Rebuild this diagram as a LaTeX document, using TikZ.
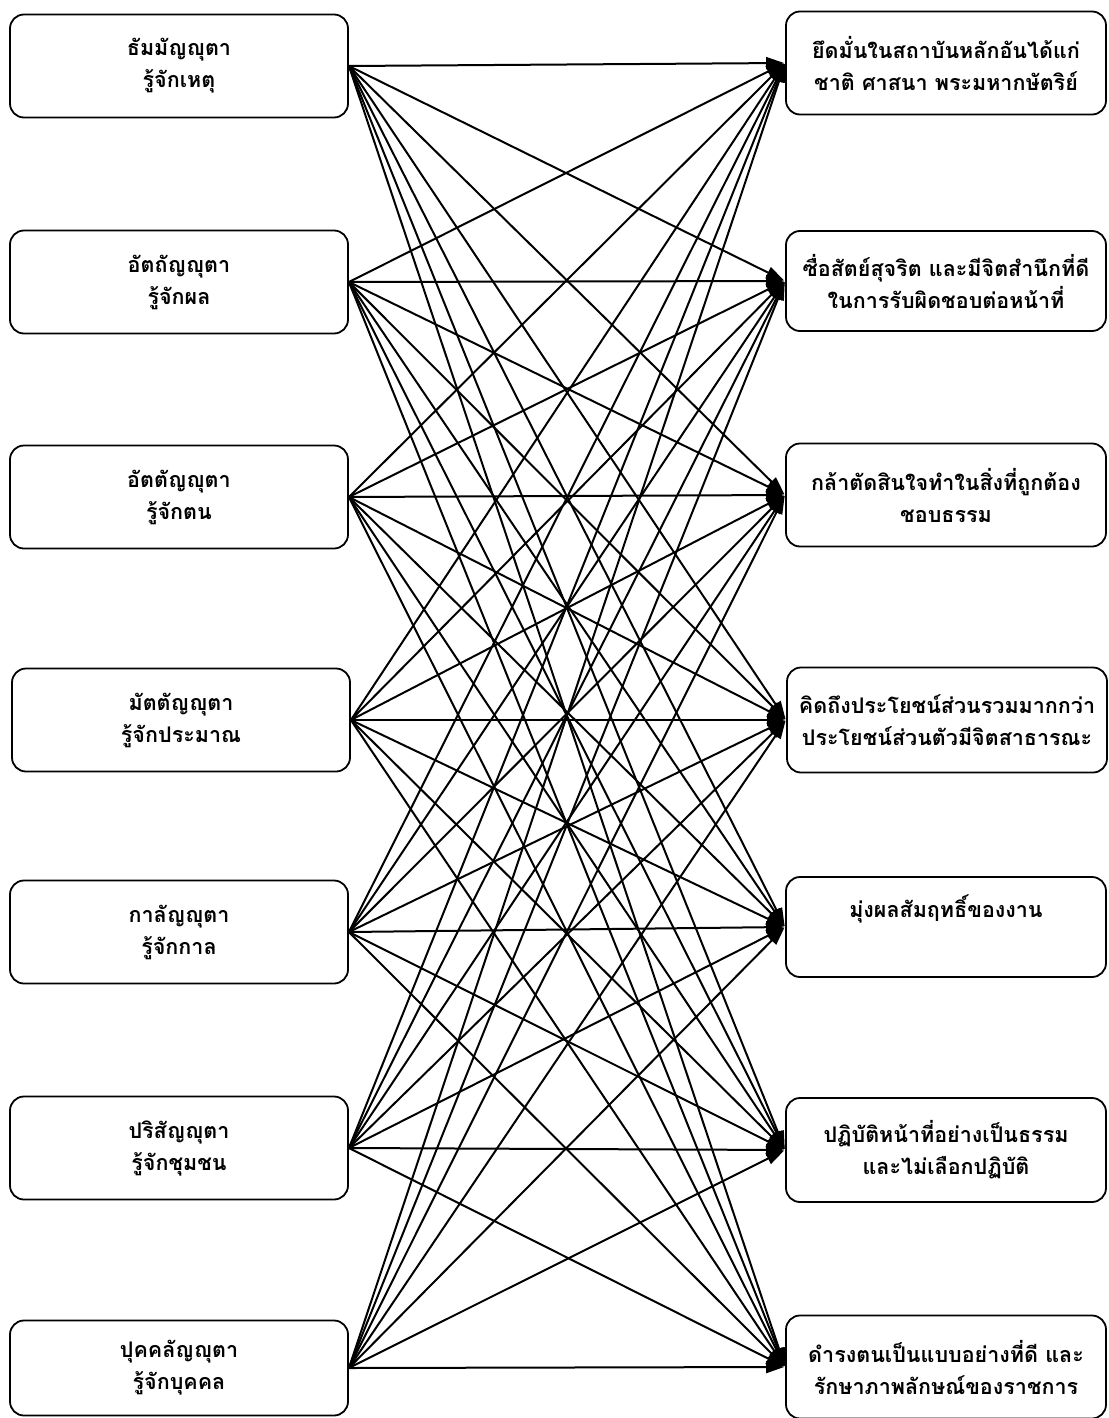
\documentclass[tikz,border=0pt]{standalone}
\usepackage{fontspec}
\newfontfamily\thaifont[Script=Thai]{Loma}
\usetikzlibrary{arrows.meta}
\begin{document}
\begin{tikzpicture}[x=1pt,y=-1pt,
  box/.style={draw=black, line width=1.8pt, rounded corners=14pt, align=center,
    font=\thaifont\bfseries\fontsize{21.5}{32}\selectfont, inner sep=0pt},
  lbox/.style={box, minimum width=338pt, minimum height=103pt},
  rbox/.style={box, minimum width=320pt, minimum height=103pt},
  arr/.style={line width=2pt, -{Triangle[length=18pt,width=12pt]}, shorten >=1pt}]
\useasboundingbox (0,0) rectangle (1108,1418);
% left
\node[lbox] (L1) at (179,66) {ธัมมัญญุตา\\รู้จักเหตุ};
\node[lbox] (L2) at (179,282) {อัตถัญญุตา\\รู้จักผล};
\node[lbox] (L3) at (179,497) {อัตตัญญุตา\\รู้จักตน};
\node[lbox] (L4) at (181,720) {มัตตัญญุตา\\รู้จักประมาณ};
\node[lbox] (L5) at (179,932) {กาลัญญุตา\\รู้จักกาล};
\node[lbox] (L6) at (179,1148) {ปริสัญญุตา\\รู้จักชุมชน};
\node[lbox, minimum height=95pt] (L7) at (179,1368) {ปุคคลัญญุตา\\รู้จักบุคคล};
% right
\node[rbox] (R1) at (946,63) {ยึดมั่นในสถาบันหลักอันได้แก่\\ชาติ ศาสนา พระมหากษัตริย์};
\node[rbox, minimum height=100pt] (R2) at (946,281) {ซื่อสัตย์สุจริต และมีจิตสำนึกที่ดี\\ในการรับผิดชอบต่อหน้าที่};
\node[rbox] (R3) at (946,495) {กล้าตัดสินใจทำในสิ่งที่ถูกต้อง\\ชอบธรรม};
\node[rbox, minimum height=105pt] (R4) at (947,720) {คิดถึงประโยชน์ส่วนรวมมากกว่า\\ประโยชน์ส่วนตัวมีจิตสาธารณะ};
\node[rbox, minimum height=100pt] (R5) at (946,927) {มุ่งผลสัมฤทธิ์ของงาน\\\strut};
\node[rbox, minimum height=104pt] (R6) at (946,1150) {ปฏิบัติหน้าที่อย่างเป็นธรรม\\และไม่เลือกปฏิบัติ};
\node[rbox] (R7) at (946,1367) {ดำรงตนเป็นแบบอย่างที่ดี และ\\รักษาภาพลักษณ์ของราชการ};
% connectors
\foreach \i in {1,...,7}{
  \foreach \j in {1,...,7}{
    \draw[arr] (L\i.east) -- (R\j.west);
  }
}
\end{tikzpicture}
\end{document}
